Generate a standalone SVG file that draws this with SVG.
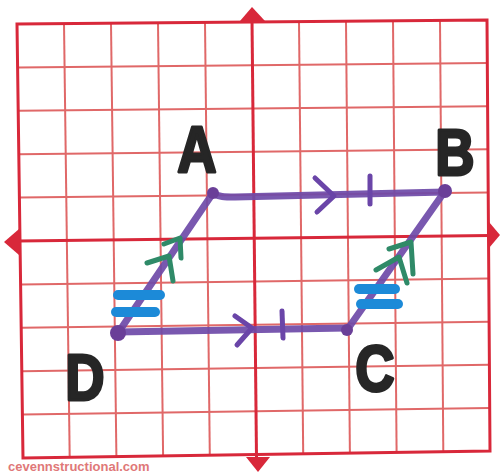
<svg xmlns="http://www.w3.org/2000/svg" width="500" height="474" viewBox="0 0 500 474">
<style>
.g{stroke:#e06868;stroke-width:2;fill:none}
.ax{stroke:#d8283a;stroke-width:3;fill:none}
.tri{fill:#d8283a}
.edge{stroke:#6e4aa8;stroke-width:7;stroke-linecap:round;stroke-linejoin:round;fill:none;opacity:0.92}
.mk{stroke:#6a45a8;stroke-width:5;stroke-linecap:round;stroke-linejoin:round;fill:none}
.grn{stroke:#2f8a68;stroke-width:5;stroke-linecap:round;stroke-linejoin:round;fill:none}
.blu{stroke:#1c8ad8;stroke-width:10;stroke-linecap:round;fill:none}
.dot{fill:#6a3f98}
.lbl{font-family:"Liberation Sans",Arial,sans-serif;font-weight:bold;font-size:64px;fill:#262626;stroke:#262626;stroke-width:3;stroke-linejoin:round;text-anchor:middle}
.wm{font-family:"Liberation Sans",Arial,sans-serif;font-weight:bold;font-size:13px;fill:#e07878}
</style>
<rect width="500" height="474" fill="#ffffff"/>
<g id="grid">
<line class="g" x1="64" y1="23.6" x2="69.7" y2="457.3"/>
<line class="g" x1="111" y1="23.2" x2="116.4" y2="456.6"/>
<line class="g" x1="158" y1="22.8" x2="163.1" y2="455.9"/>
<line class="g" x1="205" y1="22.4" x2="209.8" y2="455.2"/>
<line class="g" x1="299" y1="21.6" x2="303.2" y2="453.8"/>
<line class="g" x1="346" y1="21.2" x2="349.9" y2="453.1"/>
<line class="g" x1="393" y1="20.8" x2="396.6" y2="452.4"/>
<line class="g" x1="440" y1="20.4" x2="443.3" y2="451.7"/>
<line class="g" x1="17.6" y1="67.4" x2="487.3" y2="63.1"/>
<line class="g" x1="18.2" y1="110.8" x2="487.6" y2="106.2"/>
<line class="g" x1="18.8" y1="154.2" x2="487.9" y2="149.3"/>
<line class="g" x1="19.4" y1="197.6" x2="488.2" y2="192.4"/>
<line class="g" x1="20.6" y1="284.4" x2="488.8" y2="278.6"/>
<line class="g" x1="21.2" y1="327.8" x2="489.1" y2="321.7"/>
<line class="g" x1="21.8" y1="371.2" x2="489.4" y2="364.8"/>
<line class="g" x1="22.4" y1="414.6" x2="489.7" y2="407.9"/>
<polygon class="ax" points="17,24 487,20 490,451 23,458"/>
<line class="ax" x1="252" y1="20" x2="256.5" y2="458"/>
<line class="ax" x1="18" y1="241" x2="490" y2="235.5"/>
<polygon class="tri" points="252,7 240,21 265,21"/>
<polygon class="tri" points="246,457 270,457 258,472"/>
<polygon class="tri" points="4,242 19,229 19,255"/>
<polygon class="tri" points="489,222 489,248 500,235"/>
</g>
<g id="connectors">
<path class="edge" d="M213,193 C218,197 225,197 235,197 L445,192"/>
<path class="edge" d="M118,332 L347,328"/>
<path class="edge" d="M118,333 L213,193"/>
<path class="edge" d="M347,330 L445,191"/>
<polyline class="mk" points="315,178 334,196 317,212"/>
<line class="mk" x1="370" y1="176" x2="370" y2="204"/>
<polyline class="mk" points="235,316 252,328 237,345"/>
<line class="mk" x1="282" y1="311" x2="283" y2="338"/>
<polyline class="grn" points="147,263 169,256 173,281"/>
<polyline class="grn" points="164,244 180,238 181,258"/>
<polyline class="grn" points="389,249 411,242 413,274"/>
<polyline class="grn" points="376,270 399,257 407,283"/>
<line class="blu" x1="118" y1="295" x2="160" y2="295"/>
<line class="blu" x1="116" y1="312" x2="155" y2="312"/>
<line class="blu" x1="359" y1="289" x2="395" y2="289"/>
<line class="blu" x1="361" y1="304" x2="398" y2="304"/>
</g>
<g id="node-A">
<circle class="dot" cx="213" cy="193" r="6"/>
<text class="lbl" transform="translate(197,172) scale(0.85,1)">A</text>
</g>
<g id="node-B">
<circle class="dot" cx="445" cy="191" r="7"/>
<text class="lbl" transform="translate(455,175) scale(0.85,1)">B</text>
</g>
<g id="node-C">
<circle class="dot" cx="347" cy="330" r="6"/>
<text class="lbl" transform="translate(375,391) scale(0.85,1)">C</text>
</g>
<g id="node-D">
<circle class="dot" cx="118" cy="333" r="8"/>
<text class="lbl" transform="translate(85,400) scale(0.85,1)">D</text>
</g>
<text class="wm" x="8" y="471">cevennstructional.com</text>
</svg>
